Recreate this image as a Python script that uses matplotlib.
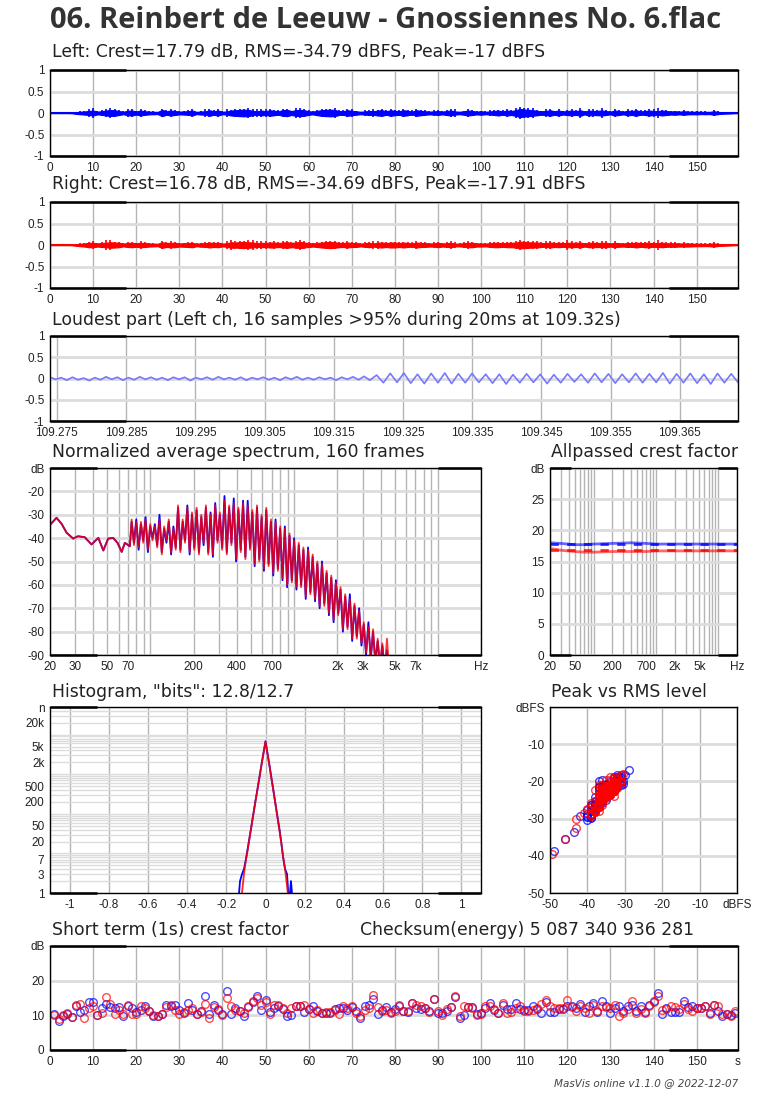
import matplotlib
matplotlib.use('Agg')
import matplotlib.pyplot as plt
import numpy as np

plt.rcParams['font.family'] = ['Liberation Sans', 'DejaVu Sans']

# ---- data ----
title = '06. Reinbert de Leeuw - Gnossiennes No. 6.flac'
duration = 159.6
crest_total_l, crest_total_r = 17.79, 16.78
rms_total_l, rms_total_r = -34.79, -34.69
peak_total_l, peak_total_r = -17, -17.91

# per second rms level (dBFS), seconds 1..159
rms_l = [
    -72, -70, -69, -66, -60, -42, -39, -37, -35, -33,
    -38, -36, -33, -31.5, -32, -35, -39, -34, -33, -37,
    -33, -36, -38, -39, -40, -31, -36, -33, -35, -38,
    -37, -36, -33, -40, -37, -37, -32, -36, -33, -39,
    -37, -33, -32, -31, -30.5, -31, -34, -37, -33, -36,
    -32, -34, -36, -32, -31, -35, -32, -31, -32, -36,
    -38, -34, -32, -31, -30.5, -31, -35, -36, -32, -34,
    -36, -39, -37, -35, -36, -33, -32, -36, -32, -34,
    -36, -32, -34, -38, -32, -34, -36, -38, -37, -35,
    -38, -35, -33, -37, -39, -36, -33, -35, -38, -36,
    -39, -37, -35, -33, -37, -33, -35, -32, -28.8, -30,
    -31, -32, -34, -36, -35, -32, -36, -33, -37, -35,
    -33, -36, -32, -38, -33, -35, -34, -33, -35, -38,
    -33, -35, -38, -34, -35, -32, -37, -35, -33, -35,
    -36, -33, -35, -37, -36, -38, -36, -38, -39, -38,
    -40, -39, -40, -36, -40, -43.5, -46, -49, -60]
rms_r = [
    -73, -71, -69, -67, -61, -43, -39, -37, -34, -34,
    -37, -35, -34, -32, -33, -34, -38, -35, -34, -36,
    -34, -35, -37, -38, -39, -32, -35, -34, -34, -37,
    -36, -35, -34, -39, -36, -36, -33, -35, -34, -38,
    -36, -32, -33, -31.5, -31, -32, -33, -36, -34, -35,
    -33, -33, -35, -33, -32, -34, -33, -31, -33, -35,
    -37, -35, -33, -32, -31, -32, -34, -35, -33, -35,
    -35, -38, -36, -34, -37, -34, -33, -35, -33, -33,
    -35, -33, -35, -37, -33, -35, -35, -37, -37, -34,
    -37, -36, -34, -38, -38, -36, -34, -34, -37, -37,
    -38, -36, -34, -34, -36, -34, -34, -33, -30.5, -31,
    -32, -33, -33, -35, -36, -33, -35, -34, -36, -34,
    -34, -35, -33, -37, -34, -34, -35, -34, -34, -37,
    -34, -36, -37, -35, -36, -33, -36, -34, -34, -36,
    -35, -34, -36, -36, -36, -37, -37, -37, -38, -39,
    -39, -40, -39, -37, -41, -43, -46, -49.5, -61]

# short term (1s) crest factor, dB
crest_l = [
    10.3, 8.4, 9.9, 10.5, 9.4, 12.6, 11.0, 11.6, 13.8, 13.9,
    10.1, 12.0, 13.2, 12.5, 12.2, 12.5, 9.9, 12.8, 12.0, 11.0,
    11.6, 12.6, 11.2, 9.9, 9.7, 10.5, 13.1, 12.6, 13.1, 11.6,
    10.8, 13.7, 11.6, 10.3, 11.3, 15.5, 10.4, 12.9, 11.4, 10.3,
    17.0, 10.3, 12.0, 11.2, 9.7, 12.3, 13.9, 15.5, 11.6, 14.3,
    11.0, 12.0, 12.6, 11.8, 9.9, 10.1, 12.6, 12.8, 11.0, 11.8,
    12.6, 11.2, 10.8, 10.8, 10.7, 11.8, 12.2, 12.0, 11.6, 12.3,
    11.2, 9.3, 12.8, 12.9, 14.7, 10.4, 11.6, 12.3, 11.0, 11.8,
    12.6, 11.2, 11.0, 13.7, 12.2, 11.8, 12.0, 11.2, 14.7, 10.8,
    10.6, 11.2, 12.5, 15.4, 9.2, 10.2, 12.3, 12.3, 10.3, 10.6,
    12.2, 13.7, 11.6, 10.6, 12.9, 11.8, 11.8, 13.7, 11.8, 11.6,
    11.4, 12.8, 11.8, 10.6, 13.9, 11.0, 11.0, 11.8, 11.8, 12.8,
    12.6, 12.0, 13.2, 11.0, 12.6, 13.7, 11.0, 14.2, 12.6, 10.6,
    12.0, 12.6, 11.2, 12.6, 12.9, 11.2, 12.6, 11.0, 12.9, 14.2,
    16.4, 10.3, 12.2, 11.0, 11.0, 11.0, 14.2, 12.4, 12.6, 12.0,
    12.2, 12.6, 10.6, 12.9, 11.3, 9.9, 10.4, 10.2, 10.8]
crest_r = [
    10.0, 8.9, 10.1, 10.8, 9.6, 13.0, 13.2, 9.1, 12.0, 12.6,
    10.1, 10.6, 15.2, 13.3, 10.5, 11.6, 10.4, 13.1, 10.4, 10.5,
    12.6, 12.2, 11.3, 10.0, 9.7, 10.3, 12.3, 13.1, 11.4, 10.3,
    11.1, 11.6, 12.0, 10.3, 11.0, 13.4, 9.1, 12.4, 11.8, 10.2,
    15.0, 12.7, 11.6, 11.3, 10.6, 12.6, 14.2, 15.0, 12.9, 13.8,
    10.3, 12.9, 12.9, 12.1, 10.6, 12.0, 12.6, 12.8, 12.9, 11.8,
    10.6, 11.6, 10.8, 11.0, 11.0, 11.4, 10.3, 12.6, 12.0, 12.6,
    10.8, 9.9, 11.6, 12.2, 16.0, 12.4, 11.2, 11.6, 10.8, 11.2,
    12.9, 11.2, 11.2, 13.5, 13.1, 12.6, 12.0, 11.0, 14.7, 11.2,
    10.0, 11.8, 12.4, 15.7, 9.7, 12.8, 12.4, 12.0, 10.1, 10.4,
    12.6, 12.6, 11.8, 10.6, 13.7, 10.6, 11.0, 12.0, 12.6, 11.2,
    11.2, 11.4, 12.0, 13.2, 14.3, 12.6, 12.0, 12.2, 12.0, 14.5,
    12.3, 11.2, 12.6, 12.0, 10.6, 12.9, 11.2, 12.6, 12.3, 12.0,
    12.9, 9.7, 10.8, 11.8, 14.2, 10.8, 11.8, 10.6, 12.6, 13.9,
    15.5, 11.6, 11.8, 12.6, 12.4, 11.8, 13.3, 11.8, 11.2, 12.0,
    12.2, 12.6, 10.3, 12.9, 12.6, 10.4, 10.4, 9.9, 11.2]

# loudest part: successive extremes of the waveform
loud_start, loud_switch, loud_end = 109.274, 109.3202, 109.3734
loud_quiet = [0.03, -0.02, 0.02, -0.04, 0.03, -0.03, 0.01, -0.05, 0.02, -0.03,
              0.04, -0.02, 0.03, -0.04, 0.02, -0.03, 0.04, -0.02, 0.03, -0.03,
              0.02, -0.04, 0.03, -0.02, 0.03, -0.05, 0.02, -0.02, 0.03, -0.03,
              0.04, -0.02, 0.02, -0.03, 0.03, -0.04, 0.02, -0.02, 0.03, -0.03,
              0.02, -0.04, 0.03, -0.02, 0.04, -0.03, 0.02, -0.03, 0.03, -0.02,
              0.02, -0.04, 0.03, -0.02, 0.04, -0.03, 0.05, -0.04]
loud_loud = [0.08, -0.10, 0.12, -0.09, 0.13, -0.11, 0.10, -0.12, 0.12, -0.10,
             0.13, -0.12, 0.11, -0.10, 0.12, -0.09, 0.10, -0.11, 0.10, -0.13,
             0.09, -0.10, 0.11, -0.09, 0.10, -0.12, 0.09, -0.10, 0.11, -0.08,
             0.10, -0.10, 0.12, -0.09, 0.11, -0.11, 0.10, -0.09, 0.12, -0.10,
             0.11, -0.09, 0.13, -0.12, 0.11, -0.10, 0.12, -0.11, 0.10, -0.13,
             0.12, -0.10, 0.11, -0.09]

# spectrum: smooth low end, then alternating peaks / troughs 74 Hz .. 4.6 kHz
spec_lo_f = [20, 20.3, 22.2, 24.1, 26.1, 29.0, 31.3, 34.9, 38.9, 43.4, 47.0,
             50.8, 55.0, 59.0, 63.1, 66.4, 71.9]
spec_lo_db = [-34.5, -33.9, -31.3, -33.9, -37.7, -40.2, -39.2, -39.6, -42.7,
              -39.9, -45.3, -40.2, -39.9, -42.0, -45.9, -42.0, -43.5]
spec_hi_range = (74, 4600)
spec_peak_l = [-33, -32, -34, -31, -35, -34, -30, -36, -33, -35,
               -27, -33, -26, -30, -28, -31, -27, -29, -25, -30,
               -22, -27, -23, -28, -24, -24, -29, -27, -31, -28,
               -33, -32, -36, -35, -39, -40, -43, -45, -44, -48,
               -51, -50, -55, -57, -58, -62, -65, -64, -69, -70,
               -77, -76, -80, -84, -86, -88]
spec_trough_l = [-42, -45, -41, -46, -40, -43, -46, -42, -47, -44,
                 -45, -41, -47, -44, -46, -43, -46, -48, -41, -44,
                 -46, -42, -50, -45, -48, -44, -52, -49, -54, -51,
                 -56, -53, -58, -61, -58, -62, -60, -66, -63, -67,
                 -70, -68, -73, -76, -72, -80, -78, -84, -82, -86,
                 -90, -92, -93, -95, -96, -98]
spec_peak_r = [-32, -33, -33, -32, -34, -35, -32, -35, -32, -36,
               -26, -32, -27, -29, -27, -30, -26, -30, -26, -29,
               -24, -26, -25, -27, -25, -26, -28, -26, -30, -27,
               -32, -33, -35, -36, -38, -41, -42, -44, -45, -47,
               -50, -51, -54, -56, -59, -61, -64, -66, -68, -71,
               -76, -78, -79, -83, -85, -83]
spec_trough_r = [-43, -44, -42, -45, -41, -44, -47, -41, -46, -45,
                 -46, -42, -46, -45, -47, -42, -47, -47, -42, -45,
                 -47, -43, -49, -46, -49, -45, -51, -50, -53, -52,
                 -55, -54, -57, -60, -59, -61, -61, -65, -64, -66,
                 -69, -69, -72, -75, -73, -79, -79, -83, -83, -85,
                 -89, -91, -94, -94, -97, -98]

# allpassed crest factor
ap_f = [20, 30, 50, 70, 100, 200, 400, 700, 1000, 2000, 5000, 10000, 20000]
ap_l = [18.0, 17.9, 17.7, 17.7, 17.8, 17.9, 18.0, 17.9, 17.8, 17.8, 17.8, 17.8, 17.8]
ap_r = [17.1, 16.8, 16.6, 16.5, 16.5, 16.6, 16.6, 16.6, 16.7, 16.7, 16.7, 16.7, 16.7]

# histogram of sample values
hist_x = [-0.14, -0.13, -0.12, -0.11, -0.10, -0.09, -0.08, -0.07, -0.06, -0.05,
          -0.04, -0.03, -0.02, -0.01, 0.0, 0.01, 0.02, 0.03, 0.04, 0.05,
          0.06, 0.07, 0.08, 0.09, 0.10, 0.11, 0.12, 0.13, 0.14]
hist_l = [0.5, 2, 3, 4, 7, 14, 28, 56, 115, 230, 450, 900, 1800, 3500, 6800,
          3400, 1700, 820, 400, 190, 90, 45, 20, 8, 4, 3, 0.5, 2, 0.5]
hist_r = [0.3, 0.3, 1, 3, 7, 13, 27, 55, 110, 225, 440, 880, 1750, 3450, 6700,
          3350, 1680, 800, 390, 185, 88, 42, 19, 8, 4, 1.5, 0.5, 0.3, 0.3]

# ---- drawing ----
W, H = 770, 1099
fig = plt.figure(figsize=(W / 100, H / 100), dpi=100)
BLUE, RED = '#0000ff', '#ff0000'
VGRID, HGRID = '#b4b4b4', '#dcdcdc'
TXT = 'DejaVu Sans'


def axes_px(l, t, r, b, corners=True):
    ax = fig.add_axes([l / W, 1 - b / H, (r - l) / W, (b - t) / H])
    for s in ax.spines.values():
        s.set_color('black')
        s.set_linewidth(1)
    ax.tick_params(length=0, labelsize=8.5, pad=4, colors='#222222')
    ax.set_axisbelow(True)
    if corners:
        # thicker bits of the frame near the corners
        for y in (0, 1):
            for x0, x1 in ((0, 0.11), (0.9, 1)):
                ax.plot([x0, x1], [y, y], color='black', lw=1.8, transform=ax.transAxes,
                        clip_on=False, zorder=5, solid_capstyle='butt')
    return ax


def caption(x, y, s, ha='left'):
    fig.text(x / W, 1 - y / H, s, ha=ha, va='center', family=TXT, fontsize=12.4, color='#222222')


def hgrid(ax, which='major'):
    ax.grid(axis='y', which=which, color=HGRID, lw=2)


def vgrid(ax, which='major'):
    ax.grid(axis='x', which=which, color=VGRID, lw=1)


fig.text(50 / W, 1 - 20 / H, title, ha='left', va='center', family='Open Sans',
         fontweight='bold', fontsize=21, color='#333333')

secs = np.arange(1, len(rms_l) + 1)
peak_l = np.array(rms_l) + np.array(crest_l)
peak_r = np.array(rms_r) + np.array(crest_r)

# waveforms
for (t, b, ch, rms, pk, col, ct, rt, pt) in [
        (70, 156, 'Left', rms_l, peak_l, BLUE, crest_total_l, rms_total_l, peak_total_l),
        (202, 288, 'Right', rms_r, peak_r, RED, crest_total_r, rms_total_r, peak_total_r)]:
    ax = axes_px(50, t, 738, b)
    body = 2.6 * 10 ** (np.array(rms) / 20)
    env = 10 ** (pk / 20)
    tt = np.concatenate([[0], secs, [duration]])
    bb = np.concatenate([[0], body, [0]])
    ax.fill_between(tt, -bb, bb, color=col, lw=0.8, edgecolor=col)
    ax.vlines(secs, -env, env, color=col, lw=1.2)
    ax.plot([0, duration], [0, 0], color=col, lw=1.5)
    ax.set_xlim(0, duration)
    ax.set_ylim(-1, 1)
    ax.set_xticks(range(0, 151, 10))
    ax.set_yticks([-1, -0.5, 0, 0.5, 1])
    ax.set_yticklabels(['-1', '-0.5', '0', '0.5', '1'])
    vgrid(ax)
    hgrid(ax)
    caption(52, t - 18, '%s: Crest=%g dB, RMS=%g dBFS, Peak=%g dBFS' % (ch, ct, rt, pt))

# loudest part
ax = axes_px(50, 336, 738, 421)
tq = np.linspace(loud_start, loud_switch, len(loud_quiet))
tl = np.linspace(loud_switch, loud_end, len(loud_loud) + 1)[1:]
ax.plot(np.concatenate([tq, tl]), loud_quiet + loud_loud, color='#7777ff', lw=1.2)
ax.set_xlim(loud_start, loud_end)
ax.set_ylim(-1, 1)
lt = [109.275 + 0.01 * i for i in range(10)]
ax.set_xticks(lt)
ax.set_xticklabels(['%.3f' % v for v in lt])
ax.set_yticks([-1, -0.5, 0, 0.5, 1])
ax.set_yticklabels(['-1', '-0.5', '0', '0.5', '1'])
vgrid(ax)
hgrid(ax)
caption(52, 320, 'Loudest part (Left ch, 16 samples >95% during 20ms at 109.32s)')

log_minor = [m * 10 ** e for e in (1, 2, 3, 4) for m in range(1, 10) if 20 <= m * 10 ** e <= 20000]

# spectrum
ax = axes_px(50, 468, 481, 655)
fr = np.geomspace(spec_hi_range[0], spec_hi_range[1], 2 * len(spec_peak_l))
for pk, tr, col, a in [(spec_peak_l, spec_trough_l, BLUE, 1.0), (spec_peak_r, spec_trough_r, RED, 0.8)]:
    hi = np.ravel(np.column_stack([pk, tr]))
    ax.plot(list(spec_lo_f) + list(fr), list(spec_lo_db) + list(hi), color=col, lw=1.3, alpha=a)
ax.set_xscale('log')
ax.set_xlim(20, 20000)
ax.set_ylim(-90, -10)
sx = [20, 30, 50, 70, 200, 400, 700, 2000, 3000, 5000, 7000, 20000]
ax.set_xticks(sx)
ax.set_xticklabels(['20', '30', '50', '70', '200', '400', '700', '2k', '3k', '5k', '7k', 'Hz'])
ax.set_xticks(log_minor, minor=True)
ax.tick_params(which='minor', length=0, labelbottom=False)
ax.set_yticks(range(-90, -9, 10))
ax.set_yticklabels([str(v) for v in range(-90, -19, 10)] + ['dB'])
vgrid(ax, 'both')
hgrid(ax)
caption(52, 452, 'Normalized average spectrum, 160 frames')

# allpassed crest factor
ax = axes_px(550, 468, 737, 655)
ax.plot(ap_f, ap_l, color=BLUE, lw=2, alpha=0.6)
ax.plot(ap_f, ap_r, color=RED, lw=2, alpha=0.6)
ax.axhline(crest_total_l, color=BLUE, lw=2, ls=(0, (3, 3)), alpha=0.8)
ax.axhline(crest_total_r, color=RED, lw=2, ls=(0, (3, 3)), alpha=0.8)
ax.set_xscale('log')
ax.set_xlim(20, 20000)
ax.set_ylim(0, 30)
ax.set_xticks([20, 50, 200, 700, 2000, 5000, 20000])
ax.set_xticklabels(['20', '50', '200', '700', '2k', '5k', 'Hz'])
ax.set_xticks(log_minor, minor=True)
ax.tick_params(which='minor', length=0, labelbottom=False)
ax.set_yticks(range(0, 31, 5))
ax.set_yticklabels([str(v) for v in range(0, 26, 5)] + ['dB'])
vgrid(ax, 'both')
hgrid(ax)
caption(551, 452, 'Allpassed crest factor')

# histogram
ax = axes_px(50, 707, 481, 893)
ax.plot(hist_x, hist_l, color=BLUE, lw=1.3)
ax.plot(hist_x, hist_r, color=RED, lw=1.3, alpha=0.85)
ax.set_yscale('log')
ax.set_xlim(-1.1, 1.1)
ax.set_ylim(1, 50000)
ax.set_xticks([round(-1 + 0.2 * i, 1) for i in range(11)])
ax.set_xticklabels(['%g' % round(-1 + 0.2 * i, 1) for i in range(11)])
hy = [1, 3, 7, 20, 50, 200, 500, 2000, 5000, 20000, 50000]
ax.set_yticks(hy)
ax.set_yticklabels(['1', '3', '7', '20', '50', '200', '500', '2k', '5k', '20k', 'n'])
ax.set_yticks([m * 10 ** e for e in range(5) for m in range(1, 10) if m * 10 ** e <= 50000], minor=True)
ax.tick_params(which='minor', length=0, labelleft=False)
ax.grid(axis='y', which='both', color=HGRID, lw=1)
vgrid(ax)
caption(52, 692, 'Histogram, "bits": 12.8/12.7')

# peak vs rms
ax = axes_px(550, 707, 737, 893, corners=False)
ax.plot(rms_l, peak_l, 'o', mfc='none', mec=BLUE, ms=5.5, mew=1, alpha=0.75)
ax.plot(rms_r, peak_r, 'o', mfc='none', mec=RED, ms=5.5, mew=1, alpha=0.75)
ax.set_xlim(-50, 0)
ax.set_ylim(-50, 0)
ax.set_xticks(range(-50, 1, 10))
ax.set_xticklabels([str(v) for v in range(-50, -9, 10)] + ['dBFS'])
ax.set_yticks(range(-50, 1, 10))
ax.set_yticklabels([str(v) for v in range(-50, -9, 10)] + ['dBFS'])
vgrid(ax)
hgrid(ax)
caption(551, 692, 'Peak vs RMS level')

# short term crest
ax = axes_px(50, 946, 738, 1050)
ax.plot(secs, crest_l, 'o', mfc='none', mec=BLUE, ms=5.5, mew=1, alpha=0.7)
ax.plot(secs, crest_r, 'o', mfc='none', mec=RED, ms=5.5, mew=1, alpha=0.7)
ax.set_xlim(0, duration)
ax.set_ylim(0, 30)
ax.set_xticks(list(range(0, 151, 10)) + [duration])
ax.set_xticklabels([str(v) for v in range(0, 151, 10)] + ['s'])
ax.set_yticks([0, 10, 20, 30])
ax.set_yticklabels(['0', '10', '20', 'dB'])
vgrid(ax)
hgrid(ax)
caption(52, 930, 'Short term (1s) crest factor')
caption(360, 930, 'Checksum(energy) 5 087 340 936 281')

fig.text(738 / W, 1 - 1083 / H, 'MasVis online v1.1.0 @ 2022-12-07', ha='right', va='center',
         family=TXT, fontsize=7.5, style='italic', color='#444444')

fig.savefig('out.png', dpi=100)
